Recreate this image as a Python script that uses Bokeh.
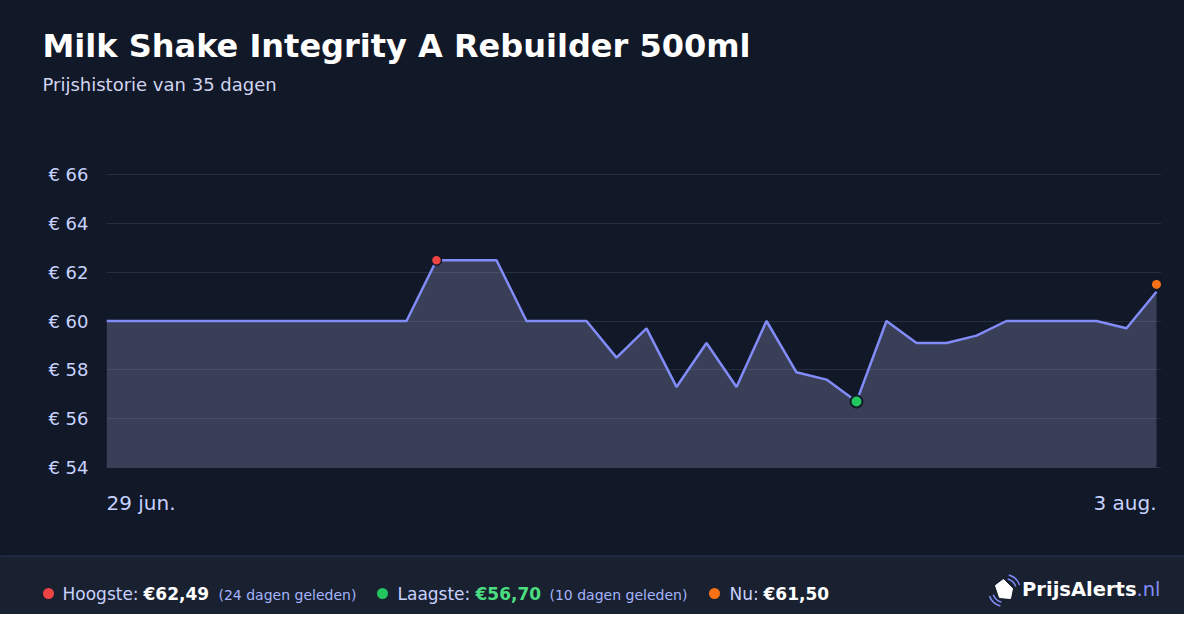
from bokeh.plotting import figure
from bokeh.models import Range1d, FixedTicker, Label, Span
from bokeh.layouts import column
from bokeh.embed import file_html
from bokeh.resources import INLINE

# ---- data ----
days = list(range(36))
prices = [60, 60, 60, 60, 60, 60, 60, 60, 60, 60, 60,
          62.49, 62.49, 62.49, 60, 60, 60, 58.5, 59.7, 57.3, 59.1,
          57.3, 60, 57.9, 57.6, 56.7, 60, 59.1, 59.1, 59.4, 60,
          60, 60, 60, 59.7, 61.2]
date_labels = ["29 jun.", "3 aug."]
y_ticks = [54, 56, 58, 60, 62, 64, 66]
high_day, high_price = 11, 62.49
low_day, low_price = 25, 56.70
now_day, now_price = 35, 61.50
title_text = "Milk Shake Integrity A Rebuilder 500ml"
subtitle_text = "Prijshistorie van 35 dagen"

BG = "#111827"
FOOT = "#192130"
LAV = "#c7d2fe"
FONT = "DejaVu Sans"
W = 1184
SHIFT = 0.4  # baseline compensation (em)

def bl(size):
    return SHIFT * size

# ---- header ----
HH = 120
h = figure(width=W, height=HH, x_range=Range1d(0, W), y_range=Range1d(0, HH),
           output_backend="svg", toolbar_location=None, x_axis_location=None, y_axis_location=None,
           min_border=0, background_fill_color=BG, border_fill_color=BG, outline_line_color=None,
           frame_align=False, styles={"background-color": BG})
h.xgrid.visible = False
h.ygrid.visible = False
h.add_layout(Label(x=42, y=HH - 58.5 + bl(32), text=title_text, text_font=FONT,
                   text_font_style="bold", text_font_size="32px", text_color="#ffffff",
                   text_baseline="alphabetic"))
h.add_layout(Label(x=42, y=HH - 91 + bl(18), text=subtitle_text, text_font=FONT,
                   text_font_size="18px", text_color="#d1d5f0", text_baseline="alphabetic"))

# ---- main chart ----
MH = 435
px_per_day = 30.0
px_per_eur = 293.0 / 12.0
x_end = days[-1] + 5 / px_per_day
y_start = y_ticks[0] - 88 / px_per_eur
y_end = y_ticks[-1] + 54 / px_per_eur

p = figure(width=W, height=MH, x_range=Range1d(days[0], x_end), y_range=Range1d(y_start, y_end),
           output_backend="svg", toolbar_location=None, x_axis_location=None,
           min_border_left=106, min_border_right=23, min_border_top=0, min_border_bottom=0,
           background_fill_color=BG, border_fill_color=BG, outline_line_color=None,
           styles={"background-color": BG})

p.yaxis.ticker = FixedTicker(ticks=y_ticks)
p.yaxis.major_label_overrides = {t: f"€ {t}" for t in y_ticks}
p.yaxis.axis_line_color = None
p.yaxis.major_tick_line_color = None
p.yaxis.minor_tick_line_color = None
p.yaxis.major_tick_out = 0
p.yaxis.major_tick_in = 0
p.yaxis.major_label_standoff = 18
p.yaxis.major_label_text_color = LAV
p.yaxis.major_label_text_font = FONT
p.yaxis.major_label_text_font_size = "18px"
p.xgrid.visible = False
p.ygrid.ticker = FixedTicker(ticks=y_ticks)
p.ygrid.grid_line_color = "#252d3e"
p.ygrid.grid_line_width = 1.2

p.varea(x=days, y1=[y_ticks[0]] * len(days), y2=prices, fill_color="#9d9aca", fill_alpha=0.3)
p.line(days, prices, line_color="#818cf8", line_width=2.5)
p.scatter([high_day], [high_price], size=10, fill_color="#ef4444", line_color=BG, line_width=1.5)
p.scatter([low_day], [low_price], size=12, fill_color="#22c55e", line_color=BG, line_width=2)
p.scatter([now_day], [now_price], size=9, fill_color="#f97316", line_color=None)

label_y = y_ticks[0] - (43 - bl(20)) / px_per_eur
p.add_layout(Label(x=days[0], y=label_y, text=date_labels[0], text_font=FONT,
                   text_font_size="20px", text_color=LAV, text_align="left",
                   text_baseline="alphabetic"))
p.add_layout(Label(x=days[-1], y=label_y, text=date_labels[1], text_font=FONT,
                   text_font_size="20px", text_color=LAV, text_align="right",
                   text_baseline="alphabetic"))

# ---- footer ----
FH = 59
f = figure(width=W, height=FH, x_range=Range1d(0, W), y_range=Range1d(0, FH),
           output_backend="svg", toolbar_location=None, x_axis_location=None, y_axis_location=None,
           min_border=0, background_fill_color=FOOT, border_fill_color=FOOT, outline_line_color=None,
           frame_align=False, styles={"background-color": FOOT})
f.xgrid.visible = False
f.ygrid.visible = False
f.add_layout(Span(location=FH - 0.5, dimension="width", line_color="#262f55", line_width=1.5))

BASE = 14  # text baseline above footer bottom

def txt(x, s, size=17, color=LAV, bold=False, align="left", base=BASE):
    f.add_layout(Label(x=x, y=base + bl(size), text=s, text_font=FONT,
                       text_font_size=f"{size}px", text_color=color,
                       text_font_style="bold" if bold else "normal",
                       text_align=align, text_baseline="alphabetic"))

def euro(v):
    return "€" + f"{v:.2f}".replace(".", ",")

DOT_Y = 21
f.scatter([48], [DOT_Y], size=11, fill_color="#ef4444", line_color=None)
txt(62, "Hoogste:")
txt(143, euro(high_price), bold=True, color="#ffffff")
txt(218, "(24 dagen geleden)", size=14, color="#a5b4fc")
f.scatter([382], [DOT_Y], size=11, fill_color="#22c55e", line_color=None)
txt(397, "Laagste:")
txt(475, euro(low_price), bold=True, color="#4ade80")
txt(549, "(10 dagen geleden)", size=14, color="#a5b4fc")
f.scatter([714], [DOT_Y], size=11, fill_color="#f97316", line_color=None)
txt(729, "Nu:")
txt(763, euro(now_price), bold=True, color="#ffffff")

# logo
txt(1136, "PrijsAlerts", size=19.5, color="#ffffff", bold=True, align="right", base=17)
txt(1136, ".nl", size=19.5, color="#818cf8", base=17)
tag_x = [995, 1003, 1012, 1010, 999]
tag_y = [29, 35, 26, 16, 17]
f.patch(tag_x, tag_y, fill_color="#ffffff", line_color="#ffffff", line_width=1)
for r in (12, 16):
    f.arc(x=1004, y=24, radius=r, start_angle=0.35, end_angle=1.3, line_color="#818cf8", line_width=1.5)
    f.arc(x=1004, y=24, radius=r, start_angle=3.5, end_angle=4.45, line_color="#818cf8", line_width=1.5)

layout = column(h, p, f, spacing=0)
open("out.html", "w").write(file_html(layout, INLINE))
